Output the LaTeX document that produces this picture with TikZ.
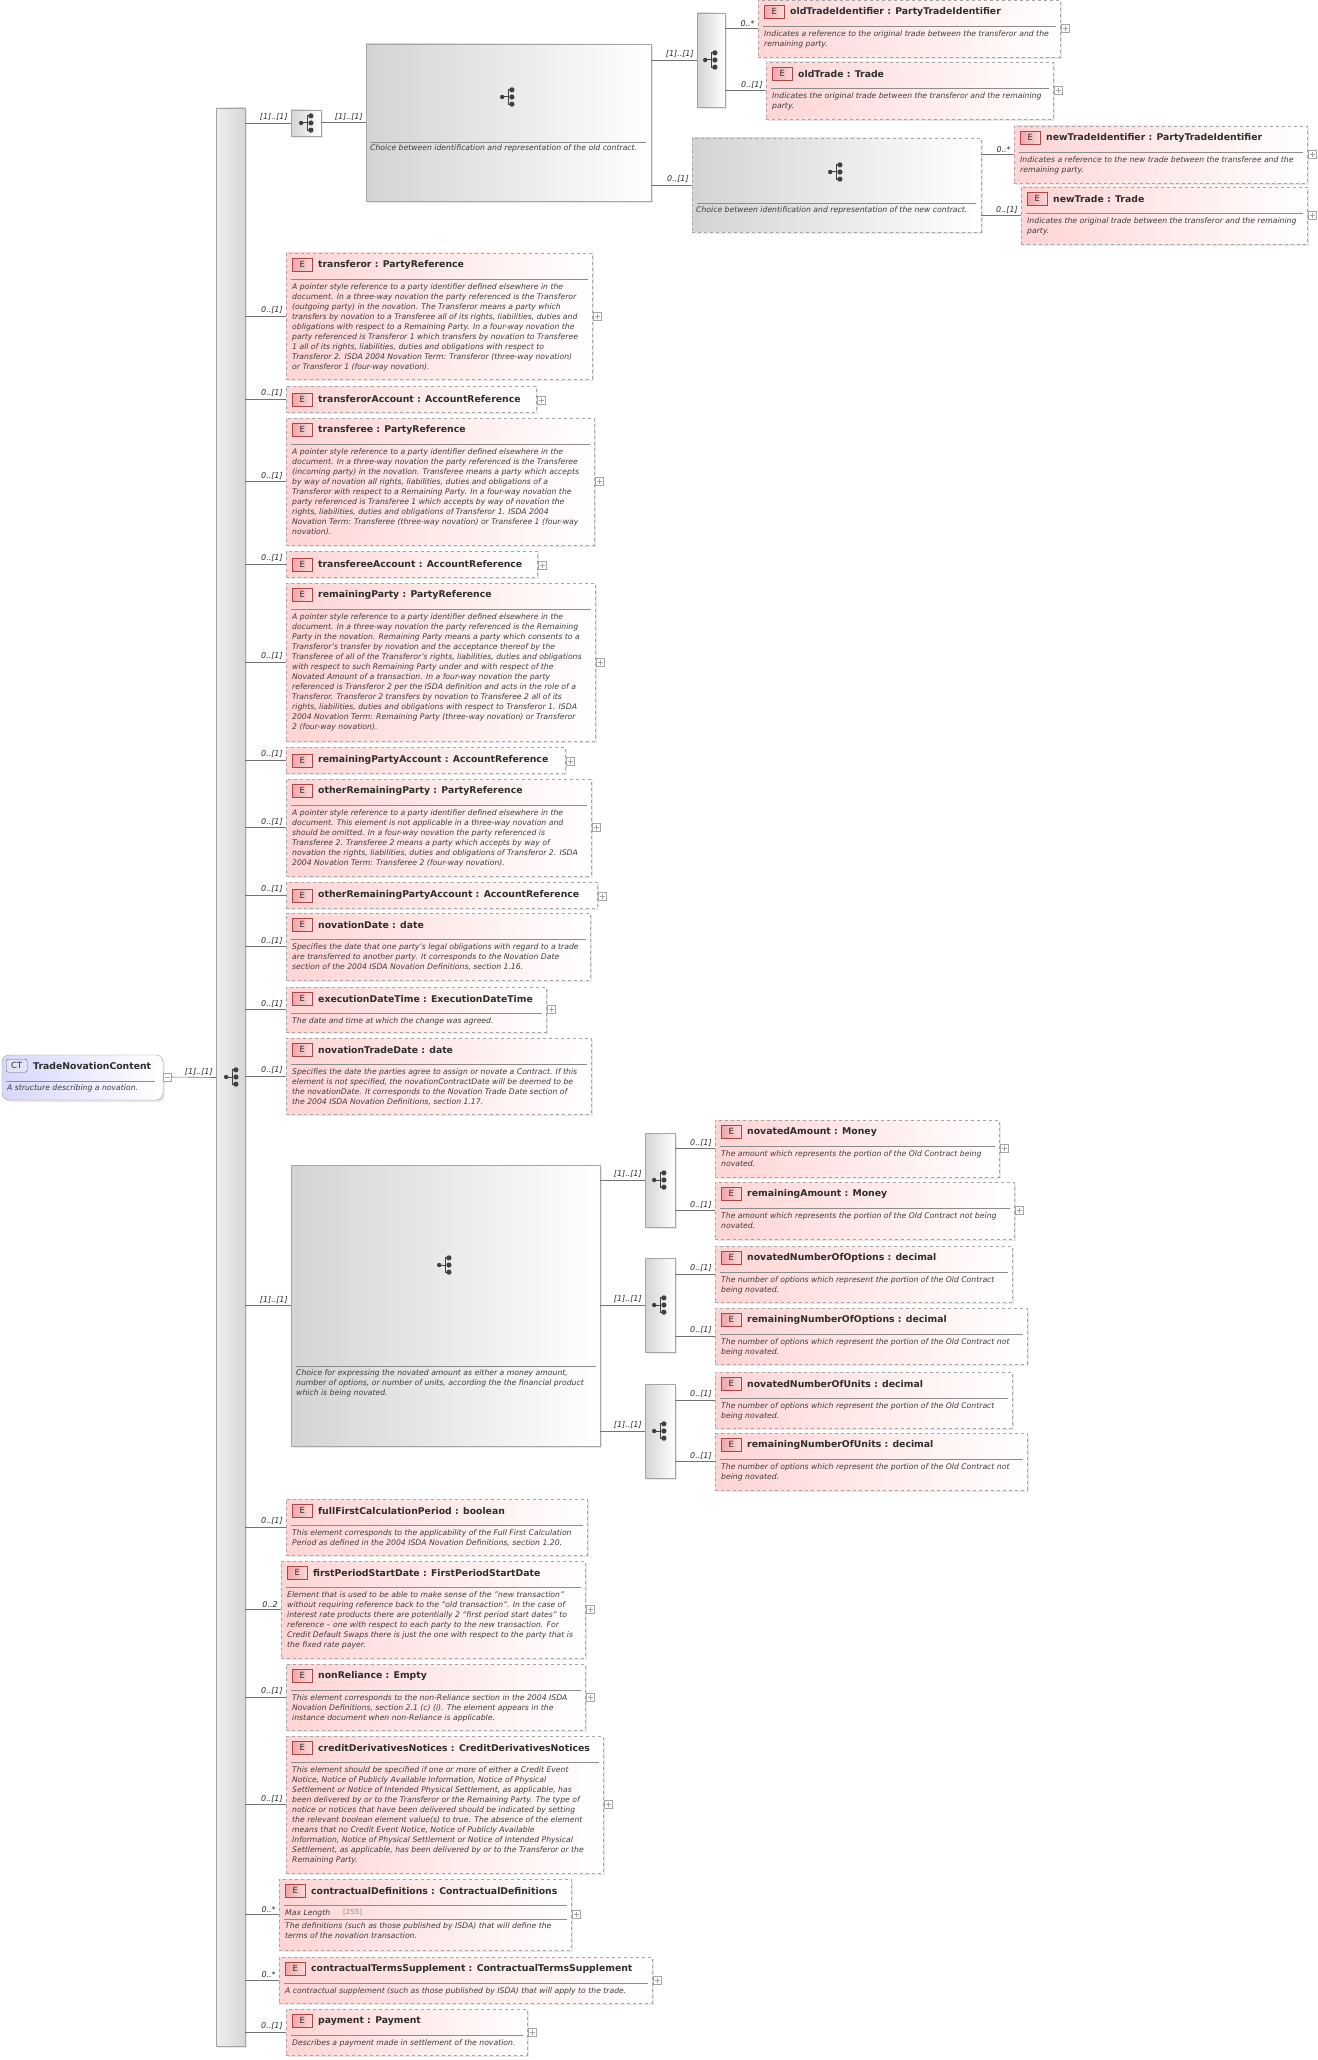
\documentclass[tikz,border=0pt]{standalone}
\usepackage{fontspec}
\setmainfont{DejaVu Sans}
\usetikzlibrary{shadows}
\definecolor{pinkf}{RGB}{255,212,212}
\definecolor{bord}{RGB}{165,165,165}
\definecolor{txt}{RGB}{45,45,45}
\definecolor{dtxt}{RGB}{60,60,60}
\definecolor{badge}{RGB}{240,165,165}
\definecolor{badgeb}{RGB}{170,70,70}
\definecolor{ctf}{RGB}{215,215,250}
\tikzset{
  ebox/.style={draw=bord, dashed, left color=pinkf, right color=white, inner sep=0, outer sep=0,
     drop shadow={opacity=0.18, shadow xshift=2pt, shadow yshift=-2pt}},
  gbox/.style={draw=bord, left color=black!17, right color=white, inner sep=0, outer sep=0,
     drop shadow={opacity=0.18, shadow xshift=2pt, shadow yshift=-2pt}},
  gboxd/.style={gbox, dashed},
  ebadge/.style={draw=badgeb, left color=badge, right color=badge!40, inner sep=0, minimum width=20pt, minimum height=13pt, font=\fontsize{8.5}{8}\selectfont, text=txt},
  ttl/.style={anchor=west, inner sep=0, font=\bfseries\fontsize{9.3}{10}\selectfont, text=txt},
  dsc/.style={anchor=north west, inner sep=0, align=left, font=\itshape\fontsize{7.7}{10}\selectfont, text=dtxt},
  lbl/.style={inner sep=0, font=\itshape\fontsize{8}{8}\selectfont, text=txt},
  cline/.style={draw=black!55, line width=0.6pt},
  plusb/.style={draw=bord, fill=white, minimum size=8pt, inner sep=0, path picture={\draw[bord] (path picture bounding box.west) ++(1.5pt,0) -- ++(5pt,0); \draw[bord] (path picture bounding box.north) ++(0,-1.5pt) -- ++(0,-5pt);}},
  sepl/.style={draw=black!45, line width=0.5pt},
  seqicon/.pic={\begin{scope}[scale=1.3]\fill[black!75] (-4.5,0) circle (1.7); \draw[black!75, line width=1pt] (-4.5,0) -- (0,0) (0,-5.5) -- (0,5.5) (0,-5.5) -- (3,-5.5) (0,5.5) -- (3,5.5); \fill[black!75] (3,-5.5) circle (2) (3,0) circle (2) (3,5.5) circle (2);\end{scope}}
}
% element with description: name x1 y1 x2 y2 title desc plusflag
\newcommand\EL[8]{%
  \node[ebox, anchor=north west, minimum width={(#4)-(#2)}, minimum height={(#5)-(#3)}] (#1) at (#2,#3) {};
  \node[ebadge, anchor=north west] at (#2+6,#3+5) {E};
  \node[ttl] at (#2+32,#3+12) {#6};
  \draw[sepl] (#2+5,#3+26) -- (#4-4,#3+26);
  \node[dsc] at (#2+6,#3+30) {#7};
  \ifnum#8=1 \node[plusb] at (#4+5,{(#3+#5)/2}) {};\fi}
\newcommand\ELs[6]{%
  \node[ebox, anchor=north west, minimum width={(#4)-(#2)}, minimum height={(#5)-(#3)}] (#1) at (#2,#3) {};
  \node[ebadge, anchor=north west] at (#2+6,#3+7) {E};
  \node[ttl] at (#2+32,#3+13) {#6};
  \node[plusb] at (#4+5,{(#3+#5)/2+1}) {};}
\newcommand\CONN[3]{\draw[cline] (#2.west -| #1.east) -- (#2.west) node[lbl, pos=1, anchor=south east, xshift=-3pt, yshift=2pt] {#3};}
\begin{document}
\begin{tikzpicture}[x=1pt,y=-1pt]
\useasboundingbox[fill=white] (0,0) rectangle (1317,2060);
% main sequence bar
\node[gbox, anchor=north west, minimum width=29, minimum height=1938, left color=black!6, right color=black!16] (mainseq) at (216,108) {};
\pic at (232,1077) {seqicon};
% CT box
\node[draw=black!40, rounded corners=7pt, left color=ctf, right color=white, anchor=north west, minimum width=161, minimum height=45, inner sep=0, outer sep=0, drop shadow={opacity=0.18, shadow xshift=2pt, shadow yshift=-2pt}] (ct) at (2,1055) {};
\node[draw=black!60, rounded corners=2pt, fill=ctf!70, inner sep=0, minimum width=21, minimum height=13, anchor=north west, font=\fontsize{8.5}{8}\selectfont, text=txt] at (6,1059) {CT};
\node[ttl] at (33,1066) {TradeNovationContent};
\draw[sepl] (6,1081) -- (155,1081);
\node[dsc] at (7,1084) {A structure describing a novation.};
\node[draw=bord, fill=white, minimum size=8pt, inner sep=0, path picture={\draw[bord] (path picture bounding box.west) ++(1.5pt,0) -- ++(5pt,0);}] (ctm) at (167,1077) {};
\draw[cline] (ctm.east) -- (ct.east -| mainseq.west) node[lbl, pos=1, anchor=south east, xshift=-3pt, yshift=2pt] {[1]..[1]};
% ---------- top choice ----------
\node[gbox, anchor=north west, minimum width=30, minimum height=26] (ch1) at (291,110) {};
\pic at (307,123) {seqicon};
\CONN{mainseq}{ch1}{[1]..[1]}
\node[gbox, anchor=north west, minimum width=285, minimum height=157] (oldc) at (366,44) {};
\pic at (508,97) {seqicon};
\draw[sepl] (371,142) -- (646,142);
\node[dsc] at (370,144) {Choice between identification and representation of the old contract.};
\CONN{ch1}{oldc}{[1]..[1]}
\node[gbox, anchor=north west, minimum width=28, minimum height=94] (oldseq) at (697,13) {};
\pic at (711,60) {seqicon};
\CONN{oldc}{oldseq}{[1]..[1]}
\node[gboxd, anchor=north west, minimum width=289, minimum height=94] (newc) at (692,138) {};
\pic at (836,172) {seqicon};
\draw[sepl] (697,203) -- (976,203);
\node[dsc] at (696,206) {Choice between identification and representation of the new contract.};
\CONN{oldc}{newc}{0..[1]}
\EL{oti}{758}{0}{1060}{57}{oldTradeIdentifier : PartyTradeIdentifier}{Indicates a reference to the original trade between the transferor and the\\remaining party.}{1}
\CONN{oldseq}{oti}{0..*}
\EL{otr}{766}{62}{1053}{119}{oldTrade : Trade}{Indicates the original trade between the transferor and the remaining\\party.}{1}
\CONN{oldseq}{otr}{0..[1]}
\EL{nti}{1014}{126}{1307}{183}{newTradeIdentifier : PartyTradeIdentifier}{Indicates a reference to the new trade between the transferee and the\\remaining party.}{1}
\CONN{newc}{nti}{0..*}
\EL{ntr}{1021}{187}{1307}{244}{newTrade : Trade}{Indicates the original trade between the transferor and the remaining\\party.}{1}
\CONN{newc}{ntr}{0..[1]}
% ---------- main elements ----------
\EL{e1}{286}{253}{592}{379}{transferor : PartyReference}{A pointer style reference to a party identifier defined elsewhere in the\\document. In a three-way novation the party referenced is the Transferor\\(outgoing party) in the novation. The Transferor means a party which\\transfers by novation to a Transferee all of its rights, liabilities, duties and\\obligations with respect to a Remaining Party. In a four-way novation the\\party referenced is Transferor 1 which transfers by novation to Transferee\\1 all of its rights, liabilities, duties and obligations with respect to\\Transferor 2. ISDA 2004 Novation Term: Transferor (three-way novation)\\or Transferor 1 (four-way novation).}{1}
\CONN{mainseq}{e1}{0..[1]}
\ELs{e2}{286}{386}{536}{412}{transferorAccount : AccountReference}
\CONN{mainseq}{e2}{0..[1]}
\EL{e3}{286}{418}{594}{545}{transferee : PartyReference}{A pointer style reference to a party identifier defined elsewhere in the\\document. In a three-way novation the party referenced is the Transferee\\(incoming party) in the novation. Transferee means a party which accepts\\by way of novation all rights, liabilities, duties and obligations of a\\Transferor with respect to a Remaining Party. In a four-way novation the\\party referenced is Transferee 1 which accepts by way of novation the\\rights, liabilities, duties and obligations of Transferor 1. ISDA 2004\\Novation Term: Transferee (three-way novation) or Transferee 1 (four-way\\novation).}{1}
\CONN{mainseq}{e3}{0..[1]}
\ELs{e4}{286}{551}{537}{577}{transfereeAccount : AccountReference}
\CONN{mainseq}{e4}{0..[1]}
\EL{e5}{286}{583}{595}{741}{remainingParty : PartyReference}{A pointer style reference to a party identifier defined elsewhere in the\\document. In a three-way novation the party referenced is the Remaining\\Party in the novation. Remaining Party means a party which consents to a\\Transferor's transfer by novation and the acceptance thereof by the\\Transferee of all of the Transferor's rights, liabilities, duties and obligations\\with respect to such Remaining Party under and with respect of the\\Novated Amount of a transaction. In a four-way novation the party\\referenced is Transferor 2 per the ISDA definition and acts in the role of a\\Transferor. Transferor 2 transfers by novation to Transferee 2 all of its\\rights, liabilities, duties and obligations with respect to Transferor 1. ISDA\\2004 Novation Term: Remaining Party (three-way novation) or Transferor\\2 (four-way novation).}{1}
\CONN{mainseq}{e5}{0..[1]}
\ELs{e6}{286}{747}{565}{773}{remainingPartyAccount : AccountReference}
\CONN{mainseq}{e6}{0..[1]}
\EL{e7}{286}{779}{591}{876}{otherRemainingParty : PartyReference}{A pointer style reference to a party identifier defined elsewhere in the\\document. This element is not applicable in a three-way novation and\\should be omitted. In a four-way novation the party referenced is\\Transferee 2. Transferee 2 means a party which accepts by way of\\novation the rights, liabilities, duties and obligations of Transferor 2. ISDA\\2004 Novation Term: Transferee 2 (four-way novation).}{1}
\CONN{mainseq}{e7}{0..[1]}
\ELs{e8}{286}{882}{597}{908}{otherRemainingPartyAccount : AccountReference}
\CONN{mainseq}{e8}{0..[1]}
\EL{e9}{286}{913}{590}{980}{novationDate : date}{Specifies the date that one party's legal obligations with regard to a trade\\are transferred to another party. It corresponds to the Novation Date\\section of the 2004 ISDA Novation Definitions, section 1.16.}{0}
\CONN{mainseq}{e9}{0..[1]}
\EL{e10}{286}{987}{546}{1032}{executionDateTime : ExecutionDateTime}{The date and time at which the change was agreed.}{1}
\CONN{mainseq}{e10}{0..[1]}
\EL{e11}{286}{1038}{591}{1114}{novationTradeDate : date}{Specifies the date the parties agree to assign or novate a Contract. If this\\element is not specified, the novationContractDate will be deemed to be\\the novationDate. It corresponds to the Novation Trade Date section of\\the 2004 ISDA Novation Definitions, section 1.17.}{0}
\CONN{mainseq}{e11}{0..[1]}
% ---------- novated amount choice ----------
\node[gbox, anchor=north west, minimum width=309, minimum height=281] (nc) at (291,1165) {};
\pic at (445,1265) {seqicon};
\draw[sepl] (296,1366) -- (596,1366);
\node[dsc] at (296,1369) {Choice for expressing the novated amount as either a money amount,\\number of options, or number of units, according the the financial product\\which is being novated.};
\CONN{mainseq}{nc}{[1]..[1]}
\node[gbox, anchor=north west, minimum width=30, minimum height=94] (s1) at (645,1133) {};
\node[gbox, anchor=north west, minimum width=30, minimum height=94] (s2) at (645,1258) {};
\node[gbox, anchor=north west, minimum width=30, minimum height=94] (s3) at (645,1384) {};
\pic at (660,1180) {seqicon};
\pic at (660,1305) {seqicon};
\pic at (660,1431) {seqicon};
\CONN{nc}{s1}{[1]..[1]}
\CONN{nc}{s2}{[1]..[1]}
\CONN{nc}{s3}{[1]..[1]}
\EL{n1}{715}{1120}{999}{1177}{novatedAmount : Money}{The amount which represents the portion of the Old Contract being\\novated.}{1}
\CONN{s1}{n1}{0..[1]}
\EL{n2}{715}{1182}{1014}{1239}{remainingAmount : Money}{The amount which represents the portion of the Old Contract not being\\novated.}{1}
\CONN{s1}{n2}{0..[1]}
\EL{n3}{715}{1246}{1012}{1302}{novatedNumberOfOptions : decimal}{The number of options which represent the portion of the Old Contract\\being novated.}{0}
\CONN{s2}{n3}{0..[1]}
\EL{n4}{715}{1308}{1027}{1364}{remainingNumberOfOptions : decimal}{The number of options which represent the portion of the Old Contract not\\being novated.}{0}
\CONN{s2}{n4}{0..[1]}
\EL{n5}{715}{1372}{1012}{1428}{novatedNumberOfUnits : decimal}{The number of options which represent the portion of the Old Contract\\being novated.}{0}
\CONN{s3}{n5}{0..[1]}
\EL{n6}{715}{1433}{1027}{1490}{remainingNumberOfUnits : decimal}{The number of options which represent the portion of the Old Contract not\\being novated.}{0}
\CONN{s3}{n6}{0..[1]}
% ---------- lower elements ----------
\EL{f1}{286}{1499}{587}{1555}{fullFirstCalculationPeriod : boolean}{This element corresponds to the applicability of the Full First Calculation\\Period as defined in the 2004 ISDA Novation Definitions, section 1.20.}{0}
\CONN{mainseq}{f1}{0..[1]}
\EL{f2}{281}{1561}{585}{1658}{firstPeriodStartDate : FirstPeriodStartDate}{Element that is used to be able to make sense of the "new transaction"\\without requiring reference back to the "old transaction". In the case of\\interest rate products there are potentially 2 "first period start dates" to\\reference – one with respect to each party to the new transaction. For\\Credit Default Swaps there is just the one with respect to the party that is\\the fixed rate payer.}{1}
\CONN{mainseq}{f2}{0..2}
\EL{f3}{286}{1664}{585}{1730}{nonReliance : Empty}{This element corresponds to the non-Reliance section in the 2004 ISDA\\Novation Definitions, section 2.1 (c) (i). The element appears in the\\instance document when non-Reliance is applicable.}{1}
\CONN{mainseq}{f3}{0..[1]}
\EL{f4}{286}{1736}{603}{1873}{creditDerivativesNotices : CreditDerivativesNotices}{This element should be specified if one or more of either a Credit Event\\Notice, Notice of Publicly Available Information, Notice of Physical\\Settlement or Notice of Intended Physical Settlement, as applicable, has\\been delivered by or to the Transferor or the Remaining Party. The type of\\notice or notices that have been delivered should be indicated by setting\\the relevant boolean element value(s) to true. The absence of the element\\means that no Credit Event Notice, Notice of Publicly Available\\Information, Notice of Physical Settlement or Notice of Intended Physical\\Settlement, as applicable, has been delivered by or to the Transferor or the\\Remaining Party.}{1}
\CONN{mainseq}{f4}{0..[1]}
\EL{f5}{279}{1879}{571}{1950}{contractualDefinitions : ContractualDefinitions}{}{1}
\node[dsc, anchor=west] at (285,1913) {Max Length};
\node[dsc, anchor=west, font=\fontsize{7}{8}\selectfont, text=black!45] at (343,1912) {[255]};
\draw[sepl] (284,1919) -- (567,1919);
\node[dsc] at (285,1922) {The definitions (such as those published by ISDA) that will define the\\terms of the novation transaction.};
\CONN{mainseq}{f5}{0..*}
\EL{f6}{279}{1957}{652}{2003}{contractualTermsSupplement : ContractualTermsSupplement}{A contractual supplement (such as those published by ISDA) that will apply to the trade.}{1}
\CONN{mainseq}{f6}{0..*}
\EL{f7}{286}{2009}{527}{2055}{payment : Payment}{Describes a payment made in settlement of the novation.}{1}
\CONN{mainseq}{f7}{0..[1]}
\end{tikzpicture}
\end{document}
